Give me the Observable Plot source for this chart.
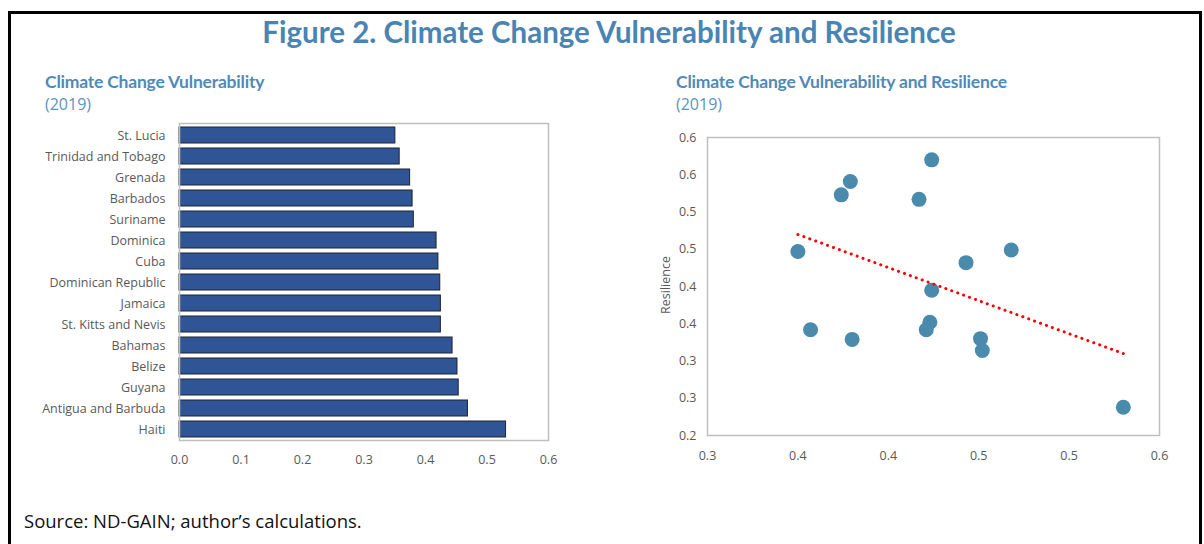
<!DOCTYPE html>
<html><head><meta charset="utf-8">
<script src="https://cdn.jsdelivr.net/npm/d3@7"></script>
<script src="https://cdn.jsdelivr.net/npm/@observablehq/plot@0.6"></script>
<style>
html,body{margin:0;padding:0;background:#fff;overflow:hidden;width:1204px;height:544px;}
#frame{position:absolute;left:8px;top:11px;width:1194px;height:600px;border:3px solid #000;box-sizing:border-box;}
.t{position:absolute;white-space:nowrap;}
#main{left:0;width:1218px;top:14px;text-align:center;font:bold 29.5px Lato,sans-serif;color:#4a84b2;}
.sub{font:bold 17.5px Lato,sans-serif;color:#4f8ab8;letter-spacing:-0.2px;}
.yr{font:16px "Open Sans",sans-serif;color:#5b94c2;}
#src{left:24px;top:508px;font:18.5px "Open Sans",sans-serif;color:#111;}
#ylab{left:665px;top:285px;transform:translate(-50%,-50%) rotate(-90deg);font:12.5px "Open Sans",sans-serif;color:#595959;}
.chart{position:absolute;}
</style></head><body>
<div id="frame"></div>
<div id="main" class="t">Figure 2. Climate Change Vulnerability and Resilience</div>
<div class="t sub" style="left:45px;top:71px">Climate Change Vulnerability</div>
<div class="t yr" style="left:45px;top:93px">(2019)</div>
<div class="t sub" style="left:676px;top:71px">Climate Change Vulnerability and Resilience</div>
<div class="t yr" style="left:676px;top:93px">(2019)</div>
<div id="left" class="chart" style="left:0;top:113px"></div>
<div id="right" class="chart" style="left:600px;top:127px"></div>
<div id="ylab" class="t">Resilience</div>
<div id="src" class="t">Source: ND-GAIN; author’s calculations.</div>
<script>
// Left chart: vulnerability by country (2019)
const countries = ["St. Lucia","Trinidad and Tobago","Grenada","Barbados","Suriname","Dominica","Cuba","Dominican Republic","Jamaica","St. Kitts and Nevis","Bahamas","Belize","Guyana","Antigua and Barbuda","Haiti"];
const vulnerability = [0.351,0.358,0.375,0.379,0.381,0.418,0.421,0.424,0.425,0.425,0.444,0.452,0.454,0.469,0.531];
const barTicks = [0,0.1,0.2,0.3,0.4,0.5,0.6];
const barTickLabels = ["0.0","0.1","0.2","0.3","0.4","0.5","0.6"];

// Right chart: vulnerability (x) vs resilience (y)
const scatterX = [0.350,0.357,0.380,0.421,0.423,0.424,0.443,0.468,0.451,0.452,0.530,0.424,0.379,0.374,0.417];
const scatterY = [0.447,0.342,0.329,0.342,0.352,0.395,0.432,0.449,0.330,0.314,0.238,0.570,0.541,0.523,0.517];
const scatterXTicks = [0.30,0.35,0.40,0.45,0.50,0.55];
const scatterXLabels = ["0.3","0.4","0.4","0.5","0.5","0.6"];
const scatterYTicks = [0.20,0.25,0.30,0.35,0.40,0.45,0.50,0.55,0.60];
const scatterYLabels = ["0.2","0.3","0.3","0.4","0.4","0.5","0.5","0.6","0.6"];

const tickFont = '"Open Sans", sans-serif';
const tickColor = "#595959";

const barData = countries.map((c, i) => ({country: c, value: vulnerability[i]}));
const barLabelMap = new Map(barTicks.map((t, i) => [t, barTickLabels[i]]));

const left = Plot.plot({
  width: 600, height: 357,
  marginLeft: 179, marginRight: 52, marginTop: 10, marginBottom: 30,
  style: {fontFamily: tickFont, fontSize: "12.5px", color: tickColor, background: "transparent", overflow: "visible"},
  x: {domain: [0, 0.6], ticks: barTicks, tickFormat: d => barLabelMap.get(d), tickSize: 0, tickPadding: 15, label: null},
  y: {domain: countries, paddingInner: 0.24, paddingOuter: 0.12, tickSize: 0, tickPadding: 14, label: null},
  marks: [
    Plot.barX(barData, {x: "value", y: "country", fill: "#2f5597", stroke: "#1c2430", strokeWidth: 1}),
    Plot.frame({stroke: "#bfbfbf", strokeWidth: 1.5})
  ]
});
document.getElementById("left").appendChild(left);

const scatterData = scatterX.map((x, i) => ({x, y: scatterY[i]}));
const sxMap = new Map(scatterXTicks.map((t, i) => [t, scatterXLabels[i]]));
const syMap = new Map(scatterYTicks.map((t, i) => [t, scatterYLabels[i]]));

const right = Plot.plot({
  width: 600, height: 338,
  marginLeft: 107, marginRight: 41, marginTop: 10, marginBottom: 30,
  style: {fontFamily: tickFont, fontSize: "12.5px", color: tickColor, background: "transparent", overflow: "visible"},
  x: {domain: [0.30, 0.55], ticks: scatterXTicks, tickFormat: d => sxMap.get(d), tickSize: 0, tickPadding: 16, label: null},
  y: {domain: [0.20, 0.60], ticks: scatterYTicks, tickFormat: d => syMap.get(d), tickSize: 0, tickPadding: 11, label: null},
  marks: [
    Plot.frame({stroke: "#bfbfbf", strokeWidth: 1.5}),
    Plot.dot(scatterData, {x: "x", y: "y", r: 7.5, fill: "#4a8aad", stroke: "none"}),
    Plot.linearRegressionY(scatterData, {x: "x", y: "y", ci: 0, stroke: "#ff0000", strokeWidth: 3, strokeDasharray: "0.1 6.2", strokeLinecap: "round"})
  ]
});
document.getElementById("right").appendChild(right);
</script>
</body></html>
